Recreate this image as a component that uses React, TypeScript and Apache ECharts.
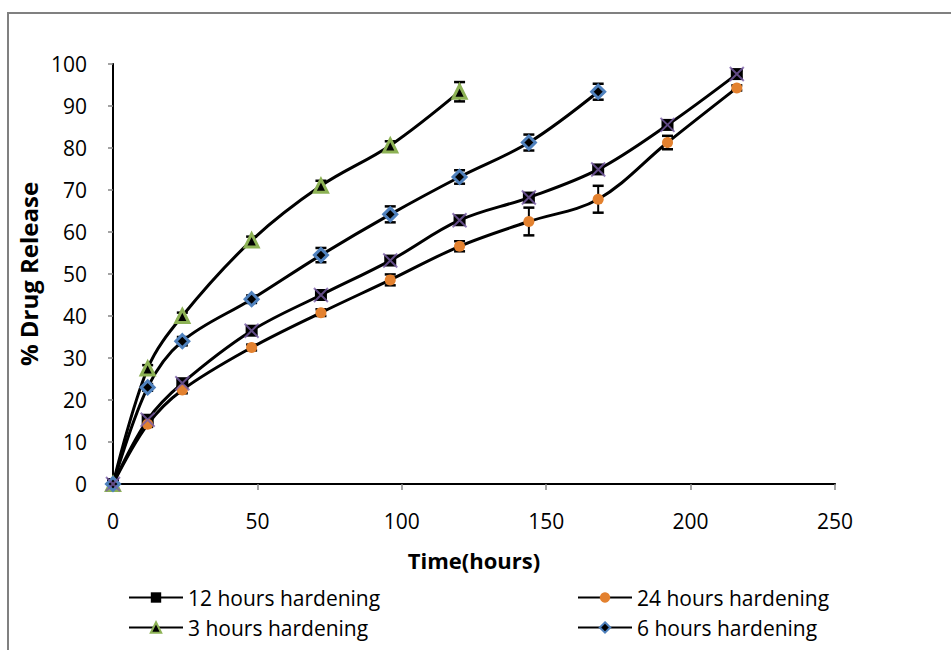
import React, { useEffect, useRef } from "react";
import * as echarts from "echarts";

const times = [0, 12, 24, 48, 72, 96, 120, 144, 168, 192, 216];
const xTicks = [0, 50, 100, 150, 200, 250];
const yTicks = [0, 10, 20, 30, 40, 50, 60, 70, 80, 90, 100];

const names = ["12 hours hardening", "24 hours hardening", "3 hours hardening", "6 hours hardening"];

const release12 = [0, 15.3, 24.0, 36.5, 45.0, 53.2, 62.8, 68.2, 74.9, 85.5, 97.6];
const err12 = [0, 0.7, 0.8, 0.8, 0.8, 0.8, 0.9, 0.9, 1.0, 1.0, 0.8];

const release24 = [0, 14.2, 22.4, 32.5, 40.8, 48.6, 56.6, 62.5, 67.8, 81.3, 94.3];
const err24 = [0, 0.6, 0.8, 0.7, 0.8, 1.3, 1.2, 3.3, 3.2, 1.6, 0.6];

const release3 = [0, 27.5, 40.0, 58.0, 71.0, 80.6, 93.4];
const err3 = [0, 0.8, 0.8, 0.9, 1.2, 1.0, 2.3];

const release6 = [0, 23.0, 34.0, 44.0, 54.5, 64.2, 73.1, 81.3, 93.4];
const err6 = [0, 0.8, 1.0, 0.9, 1.7, 1.9, 1.6, 1.9, 1.9];

const FONT = "'Open Sans', 'Liberation Sans', sans-serif";

function pts(vals: number[]) {
  return vals.map((v, i) => [times[i], v]);
}
function errPts(vals: number[], errs: number[]) {
  return vals.map((v, i) => [times[i], v, errs[i]]);
}

export default function App() {
  const ref = useRef<HTMLDivElement>(null);
  useEffect(() => {
    if (!ref.current) return;
    const chart = echarts.init(ref.current, null, { renderer: "svg" });

    const errorSeries = (vals: number[], errs: number[]) => ({
      type: "custom",
      xAxisIndex: 0,
      yAxisIndex: 0,
      z: 1,
      silent: true,
      data: errPts(vals, errs),
      encode: { x: 0, y: 1 },
      renderItem: (params: any, api: any) => {
        const x = api.value(0);
        const y = api.value(1);
        const e = api.value(2);
        if (!e) return { type: "group", children: [] };
        const top = api.coord([x, y + e]);
        const bot = api.coord([x, y - e]);
        const hw = 5.5;
        const st = { stroke: "#000", lineWidth: 2 };
        return {
          type: "group",
          children: [
            { type: "line", shape: { x1: top[0], y1: top[1], x2: bot[0], y2: bot[1] }, style: st },
            { type: "line", shape: { x1: top[0] - hw, y1: top[1], x2: top[0] + hw, y2: top[1] }, style: { stroke: "#000", lineWidth: 2.5 } },
            { type: "line", shape: { x1: bot[0] - hw, y1: bot[1], x2: bot[0] + hw, y2: bot[1] }, style: { stroke: "#000", lineWidth: 2.5 } },
          ],
        };
      },
    });

    const lineBase = {
      type: "line",
      smooth: 0.35,
      z: 2,
      lineStyle: { color: "#000", width: 3 },
      emphasis: { disabled: true },
    };

    const option: any = {
      animation: false,
      textStyle: { fontFamily: FONT },
      graphic: [
        {
          type: "polyline",
          shape: { points: [[8, 670], [8, 13], [970, 13]] },
          style: { stroke: "#808080", lineWidth: 2, fill: "none" },
          silent: true,
        },
      ],
      grid: { left: 113, top: 64, width: 722, height: 420, show: false },
      xAxis: [
        {
          type: "value",
          min: 0,
          max: 250,
          interval: 50,
          name: "Time(hours)",
          nameLocation: "middle",
          nameGap: 65,
          nameTextStyle: { fontFamily: FONT, fontSize: 22, fontWeight: "bold", color: "#000" },
          axisLine: { show: true, lineStyle: { color: "#868686", width: 2 } },
          axisTick: { show: true, length: 6, lineStyle: { color: "#868686", width: 1.5 } },
          axisLabel: {
            margin: 26,
            fontSize: 21,
            color: "#000",
            fontFamily: FONT,
            formatter: (v: number) => (xTicks.includes(v) ? String(v) : ""),
          },
          splitLine: { show: false },
        },
        {
          type: "value",
          position: "top",
          min: 0,
          max: 250,
          interval: 50,
          axisLine: { show: true, lineStyle: { color: "#000", width: 2 } },
          axisTick: { show: false },
          axisLabel: { show: false },
          splitLine: { show: false },
        },
      ],
      yAxis: [
        {
          type: "value",
          min: 0,
          max: 100,
          interval: 10,
          name: "% Drug Release",
          nameLocation: "middle",
          nameGap: 70,
          nameTextStyle: { fontFamily: FONT, fontSize: 24, fontWeight: "bold", color: "#000" },
          axisLine: { show: true, lineStyle: { color: "#868686", width: 2 } },
          axisTick: { show: true, length: 5, lineStyle: { color: "#868686", width: 1.5 } },
          axisLabel: {
            margin: 26,
            fontSize: 21,
            color: "#000",
            fontFamily: FONT,
            formatter: (v: number) => (yTicks.includes(v) ? String(v) : ""),
          },
          splitLine: { show: false },
        },
        {
          type: "value",
          position: "right",
          min: 0,
          max: 100,
          interval: 10,
          axisLine: { show: true, lineStyle: { color: "#000", width: 2 } },
          axisTick: { show: false },
          axisLabel: { show: false },
          splitLine: { show: false },
        },
      ],
      legend: [
        { data: [names[0]], left: 128, top: 587 },
        { data: [names[1]], left: 577, top: 587 },
        { data: [names[2]], left: 128, top: 617 },
        { data: [names[3]], left: 577, top: 617 },
      ].map((l) => ({
        ...l,
        padding: 0,
        itemWidth: 54,
        itemHeight: 13,
        itemGap: 0,
        selectedMode: false,
        textStyle: { fontFamily: FONT, fontSize: 21, color: "#000", padding: [0, 0, 0, 0] },
      })),
      series: [
        errorSeries(release12, err12),
        errorSeries(release24, err24),
        errorSeries(release3, err3),
        errorSeries(release6, err6),
        {
          ...lineBase,
          name: names[0],
          data: pts(release12),
          symbol: "rect",
          symbolSize: 12,
          itemStyle: { color: "#000" },
        },
        {
          ...lineBase,
          name: names[1],
          data: pts(release24),
          symbol: "circle",
          symbolSize: 11,
          itemStyle: { color: "#E3812F", borderWidth: 0 },
        },
        {
          ...lineBase,
          name: names[2],
          data: pts(release3),
          symbol: "triangle",
          symbolSize: 13,
          itemStyle: { color: "#000", borderColor: "#8DB255", borderWidth: 3 },
        },
        {
          ...lineBase,
          name: names[3],
          data: pts(release6),
          symbol: "diamond",
          symbolSize: 13,
          itemStyle: { color: "#000", borderColor: "#4F81BD", borderWidth: 3 },
        },
        {
          type: "scatter",
          name: "x-overlay",
          z: 5,
          silent: true,
          data: pts(release12),
          symbol: "path://M0,0L10,10M10,0L0,10",
          symbolSize: 14,
          itemStyle: { color: "none", borderColor: "#7B5EA7", borderWidth: 2 },
        },
      ],
    };
    chart.setOption(option);
    return () => chart.dispose();
  }, []);
  return (
    <div
      ref={ref}
      style={{ position: "absolute", left: 0, top: 0, width: 951, height: 650, background: "#fff" }}
    />
  );
}
